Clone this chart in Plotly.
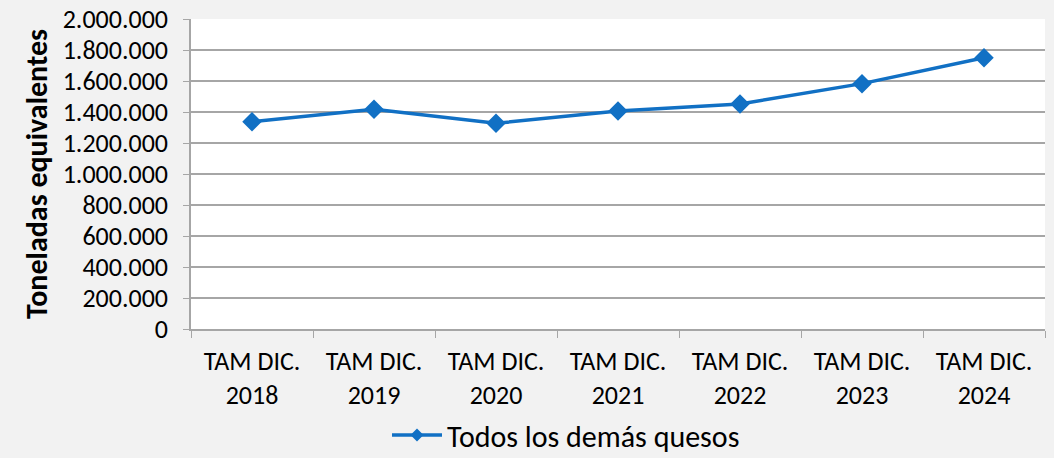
import plotly.graph_objects as go

categories = ["TAM DIC.<br>2018", "TAM DIC.<br>2019", "TAM DIC.<br>2020", "TAM DIC.<br>2021",
              "TAM DIC.<br>2022", "TAM DIC.<br>2023", "TAM DIC.<br>2024"]
values = [1337000, 1417000, 1327000, 1406000, 1452000, 1583000, 1750000]
series_name = "Todos los demás quesos"
y_ticks = [0, 200000, 400000, 600000, 800000, 1000000, 1200000, 1400000, 1600000, 1800000, 2000000]

BLUE = "#1170C4"
GRID = "#A6A6A6"
FONT = "Carlito, Lato, sans-serif"

fig = go.Figure()
fig.add_trace(go.Scatter(
    x=categories, y=values, name=series_name, mode="lines+markers",
    line=dict(color=BLUE, width=3.5),
    marker=dict(symbol="diamond", size=15, color=BLUE),
    showlegend=False,
))
# legend entry with the smaller diamond used in the reference legend
fig.add_trace(go.Scatter(
    x=[None], y=[None], name=series_name, mode="lines+markers",
    line=dict(color=BLUE, width=3.5),
    marker=dict(symbol="diamond", size=10, color=BLUE),
    showlegend=True,
))

fig.update_layout(
    width=1054, height=458,
    margin=dict(l=191, r=9, t=19, b=129, autoexpand=False),
    paper_bgcolor="#F2F2F2", plot_bgcolor="#FFFFFF",
    separators=",.",
    font=dict(family=FONT, size=22, color="#000000"),
    showlegend=True,
    legend=dict(orientation="h", xref="container", yref="container",
                x=0.537, xanchor="center", y=0.05, yanchor="middle",
                font=dict(size=30), bgcolor="rgba(0,0,0,0)", itemwidth=50),
    xaxis=dict(
        type="category", tickson="boundaries", ticks="outside", ticklen=7, tickcolor=GRID,
        showline=True, linecolor=GRID, linewidth=1.5, showgrid=False,
        tickfont=dict(size=26), ticklabelstandoff=8,
        range=[-0.5, 6.5], automargin=False,
    ),
    yaxis=dict(
        range=[0, 2000000], tickvals=y_ticks, tickformat=",d",
        ticks="outside", ticklen=6, tickcolor=GRID,
        showline=True, linecolor=GRID, linewidth=1.5,
        showgrid=True, gridcolor=GRID, gridwidth=1.5,
        zeroline=False, automargin=False,
        title=dict(text="<b>Toneladas equivalentes</b>", font=dict(size=30), standoff=6),
        tickfont=dict(size=26), ticklabelstandoff=10,
    ),
)

fig.write_html("out.html", config={"displayModeBar": False},
               post_script="document.body.style.margin='0';document.body.style.overflow='hidden';")
